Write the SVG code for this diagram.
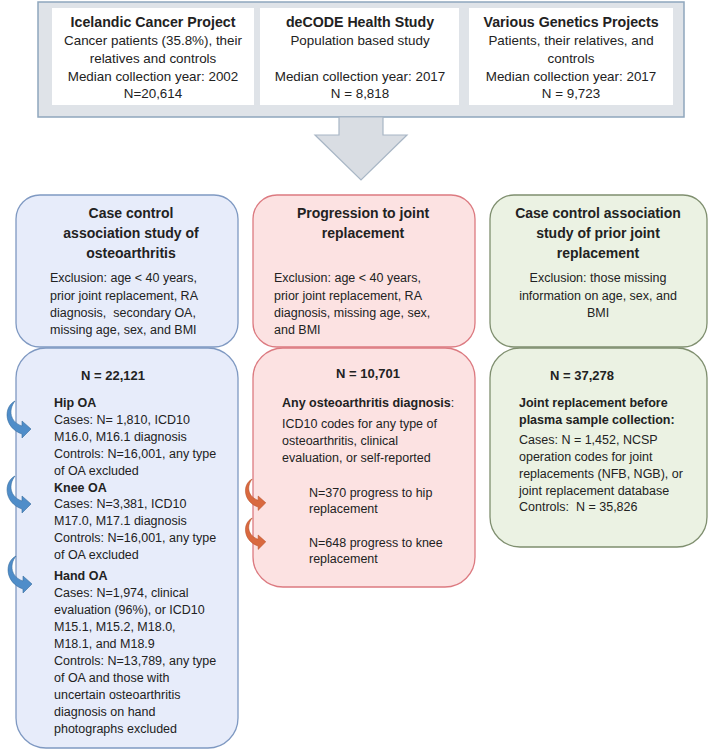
<svg xmlns="http://www.w3.org/2000/svg" xmlns:xlink="http://www.w3.org/1999/xlink" width="709" height="753" viewBox="0 0 709 753">
<style>
text{font-family:"Liberation Sans",Arial,sans-serif;fill:#222;white-space:pre}
.t{font-size:14.2px;font-weight:bold;text-anchor:middle}
.tb{font-size:13.4px;text-anchor:middle}
.h{font-size:14px;font-weight:bold;text-anchor:middle}
.b{font-size:12.5px}
.bc{font-size:12.5px;text-anchor:middle}
.bb{font-size:12.5px;font-weight:bold}
.n{font-size:13px;font-weight:bold;text-anchor:middle}
.blue{fill:#e7ecfa;stroke:#7f99c2;stroke-width:1.3}
.red{fill:#fce2e2;stroke:#dc7a80;stroke-width:1.3}
.green{fill:#ebf2e3;stroke:#7f8f6f;stroke-width:1.3}
.inner{fill:#ffffff}
.ca-blue{fill:#4f8dc9;stroke:#3b6fa0;stroke-width:0.6}
.ca-red{fill:#d9693f;stroke:#b24d28;stroke-width:0.6}
</style>
<defs>
<path id="curv" d="M12,0 C0,6 1,27 19,33 L19,37 L28,28 L19,20 L19,25 C7,21 5,9 12,0 Z"/>
</defs>

<g id="sources">
<rect x="38" y="2" width="646" height="115" fill="#dfe3e8" stroke="#8fa6bd" stroke-width="1.5"/>
<g id="icelandic">
<rect class="inner" x="52" y="8" width="202" height="97"/>
<text class="t" x="153" y="27">Icelandic Cancer Project</text>
<text class="tb" x="153" y="45">Cancer patients (35.8%), their</text>
<text class="tb" x="153" y="63">relatives and controls</text>
<text class="tb" x="153" y="81">Median collection year: 2002</text>
<text class="tb" x="153" y="98">N=20,614</text>
</g>
<g id="decode">
<rect class="inner" x="260" y="8" width="199" height="97"/>
<text class="t" x="360" y="27">deCODE Health Study</text>
<text class="tb" x="360" y="45">Population based study</text>
<text class="tb" x="360" y="81">Median collection year: 2017</text>
<text class="tb" x="360" y="98">N = 8,818</text>
</g>
<g id="various">
<rect class="inner" x="469" y="8" width="204" height="97"/>
<text class="t" x="571" y="27">Various Genetics Projects</text>
<text class="tb" x="571" y="45">Patients, their relatives, and</text>
<text class="tb" x="571" y="63">controls</text>
<text class="tb" x="571" y="81">Median collection year: 2017</text>
<text class="tb" x="571" y="98">N = 9,723</text>
</g>
</g>

<g id="oa-study">
<rect class="blue" x="16" y="195" width="222" height="152" rx="24"/>
<text class="h" x="131" y="218">Case control</text>
<text class="h" x="131" y="238">association study of</text>
<text class="h" x="131" y="258">osteoarthritis</text>
<text class="b" x="50" y="282">Exclusion: age &lt; 40 years,</text>
<text class="b" x="50" y="300">prior joint replacement, RA</text>
<text class="b" x="50" y="317">diagnosis,  secondary OA,</text>
<text class="b" x="50" y="334">missing age, sex, and BMI</text>
</g>
<g id="oa-detail">
<rect class="blue" x="16" y="348" width="222" height="400" rx="30"/>
<text class="n" x="113" y="380">N = 22,121</text>
<text class="bb" x="54" y="407">Hip OA</text>
<text class="b" x="54" y="423.9">Cases: N= 1,810, ICD10</text>
<text class="b" x="54" y="440.8">M16.0, M16.1 diagnosis</text>
<text class="b" x="54" y="457.7">Controls: N=16,001, any type</text>
<text class="b" x="54" y="474.6">of OA excluded</text>
<text class="bb" x="54" y="491.5">Knee OA</text>
<text class="b" x="54" y="508.4">Cases: N=3,381, ICD10</text>
<text class="b" x="54" y="525.3">M17.0, M17.1 diagnosis</text>
<text class="b" x="54" y="542.2">Controls: N=16,001, any type</text>
<text class="b" x="54" y="559.1">of OA excluded</text>
<text class="bb" x="54" y="579.5">Hand OA</text>
<text class="b" x="54" y="596.5">Cases: N=1,974, clinical</text>
<text class="b" x="54" y="613.5">evaluation (96%), or ICD10</text>
<text class="b" x="54" y="630.5">M15.1, M15.2, M18.0,</text>
<text class="b" x="54" y="647.5">M18.1, and M18.9</text>
<text class="b" x="54" y="664.5">Controls: N=13,789, any type</text>
<text class="b" x="54" y="681.5">of OA and those with</text>
<text class="b" x="54" y="698.5">uncertain osteoarthritis</text>
<text class="b" x="54" y="715.5">diagnosis on hand</text>
<text class="b" x="54" y="732.5">photographs excluded</text>
</g>

<g id="progression">
<rect class="red" x="253" y="195" width="222" height="152" rx="24"/>
<text class="h" x="363" y="218">Progression to joint</text>
<text class="h" x="363" y="238">replacement</text>
<text class="b" x="274" y="282">Exclusion: age &lt; 40 years,</text>
<text class="b" x="274" y="300">prior joint replacement, RA</text>
<text class="b" x="274" y="317">diagnosis, missing age, sex,</text>
<text class="b" x="274" y="334">and BMI</text>
</g>
<g id="progression-detail">
<rect class="red" x="253" y="348" width="222" height="239" rx="30"/>
<text class="n" x="368" y="378">N = 10,701</text>
<text class="bb" x="282" y="406.5">Any osteoarthritis diagnosis<tspan font-weight="normal">:</tspan></text>
<text class="b" x="282" y="427.5">ICD10 codes for any type of</text>
<text class="b" x="282" y="444.5">osteoarthritis, clinical</text>
<text class="b" x="282" y="461.5">evaluation, or self-reported</text>
<text class="b" x="309" y="496.5">N=370 progress to hip</text>
<text class="b" x="309" y="512.5">replacement</text>
<text class="b" x="309" y="546.5">N=648 progress to knee</text>
<text class="b" x="309" y="562.5">replacement</text>
</g>

<g id="prior-replacement">
<rect class="green" x="490" y="195" width="217" height="152" rx="24"/>
<text class="h" x="598" y="218">Case control association</text>
<text class="h" x="598" y="238">study of prior joint</text>
<text class="h" x="598" y="258">replacement</text>
<text class="bc" x="598" y="282">Exclusion: those missing</text>
<text class="bc" x="598" y="300">information on age, sex, and</text>
<text class="bc" x="598" y="317">BMI</text>
</g>
<g id="prior-detail">
<rect class="green" x="490" y="348" width="217" height="199" rx="30"/>
<text class="n" x="582" y="380">N = 37,278</text>
<text class="bb" x="519" y="406.5">Joint replacement before</text>
<text class="bb" x="519" y="423.5">plasma sample collection:</text>
<text class="b" x="519" y="444.3">Cases: N = 1,452, NCSP</text>
<text class="b" x="519" y="461">operation codes for joint</text>
<text class="b" x="519" y="477.8">replacements (NFB, NGB), or</text>
<text class="b" x="519" y="494.5">joint replacement database</text>
<text class="b" x="519" y="511.3">Controls:  N = 35,826</text>
</g>

<g id="connectors">
<polygon points="339,117 383,117 383,135 407,135 361,180 315,135 339,135" fill="#d9dde3" stroke="#a8b6c5" stroke-width="1.2"/>
<use xlink:href="#curv" class="ca-blue" transform="translate(3,401)"/>
<use xlink:href="#curv" class="ca-blue" transform="translate(3,476)"/>
<use xlink:href="#curv" class="ca-blue" transform="translate(4,556)"/>
<use xlink:href="#curv" class="ca-red" transform="translate(242,479) scale(0.85)"/>
<use xlink:href="#curv" class="ca-red" transform="translate(242,518) scale(0.85)"/>
</g>
</svg>
